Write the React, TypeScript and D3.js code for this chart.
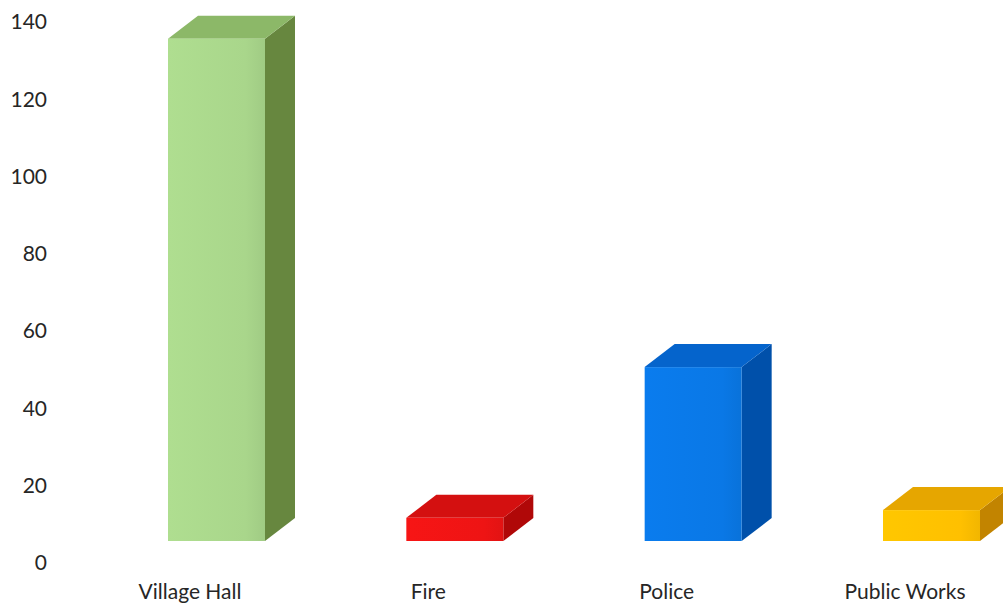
import React from "react";
import * as d3 from "d3";

const categories = ["Village Hall", "Fire", "Police", "Public Works"];
const values = [130, 6, 45, 8];
const yTicks = [0, 20, 40, 60, 80, 100, 120, 140];
const frontColors = ["#a9d68b", "#ee1414", "#0a78e6", "#ffc000"];
const topColors = ["#8cb868", "#d41010", "#0564cc", "#e6a600"];
const sideColors = ["#67873f", "#b00808", "#0050aa", "#c28400"];

const W = 1003;
const H = 604;

export default function App() {
  const y = d3.scaleLinear().domain([0, 140]).range([563, 22]);
  const x = d3.scalePoint<string>().domain(categories).range([190, 905]);
  const floorY = 541;
  const barW = 97;
  const dx = 30;
  const dy = 23;
  const font = "Lato, 'Open Sans', sans-serif";

  return (
    <svg
      width={W}
      height={H}
      style={{ position: "absolute", left: 0, top: 0, background: "#fff" }}
    >
      <defs>
        {categories.map((c, i) => (
          <linearGradient key={c} id={`fg${i}`} x1="0" x2="1" y1="0" y2="0">
            <stop offset="0" stopColor={d3.color(frontColors[i])!.brighter(0.1).toString()} />
            <stop offset="0.8" stopColor={frontColors[i]} />
            <stop offset="1" stopColor={d3.color(frontColors[i])!.darker(0.15).toString()} />
          </linearGradient>
        ))}
      </defs>
      {yTicks.map((t) => (
        <text
          key={t}
          x={47}
          y={y(t)}
          dy="0.35em"
          textAnchor="end"
          fontFamily={font}
          fontSize={21}
          fill="#262626"
        >
          {t}
        </text>
      ))}
      {categories.map((c, i) => {
        const cx = x(c)!;
        const left = cx - 22;
        const right = left + barW;
        const h = y(0) - y(values[i]);
        const top = floorY - h;
        const topPts = `${left},${top} ${left + dx},${top - dy} ${right + dx},${top - dy} ${right},${top}`;
        const sidePts = `${right},${top} ${right + dx},${top - dy} ${right + dx},${floorY - dy} ${right},${floorY}`;
        return (
          <g key={c}>
            <polygon points={sidePts} fill={sideColors[i]} />
            <polygon points={topPts} fill={topColors[i]} />
            <rect x={left} y={top} width={barW} height={h} fill={`url(#fg${i})`} />
            <text
              x={cx}
              y={592}
              dy="0.35em"
              textAnchor="middle"
              fontFamily={font}
              fontSize={21}
              fill="#262626"
            >
              {c}
            </text>
          </g>
        );
      })}
    </svg>
  );
}
